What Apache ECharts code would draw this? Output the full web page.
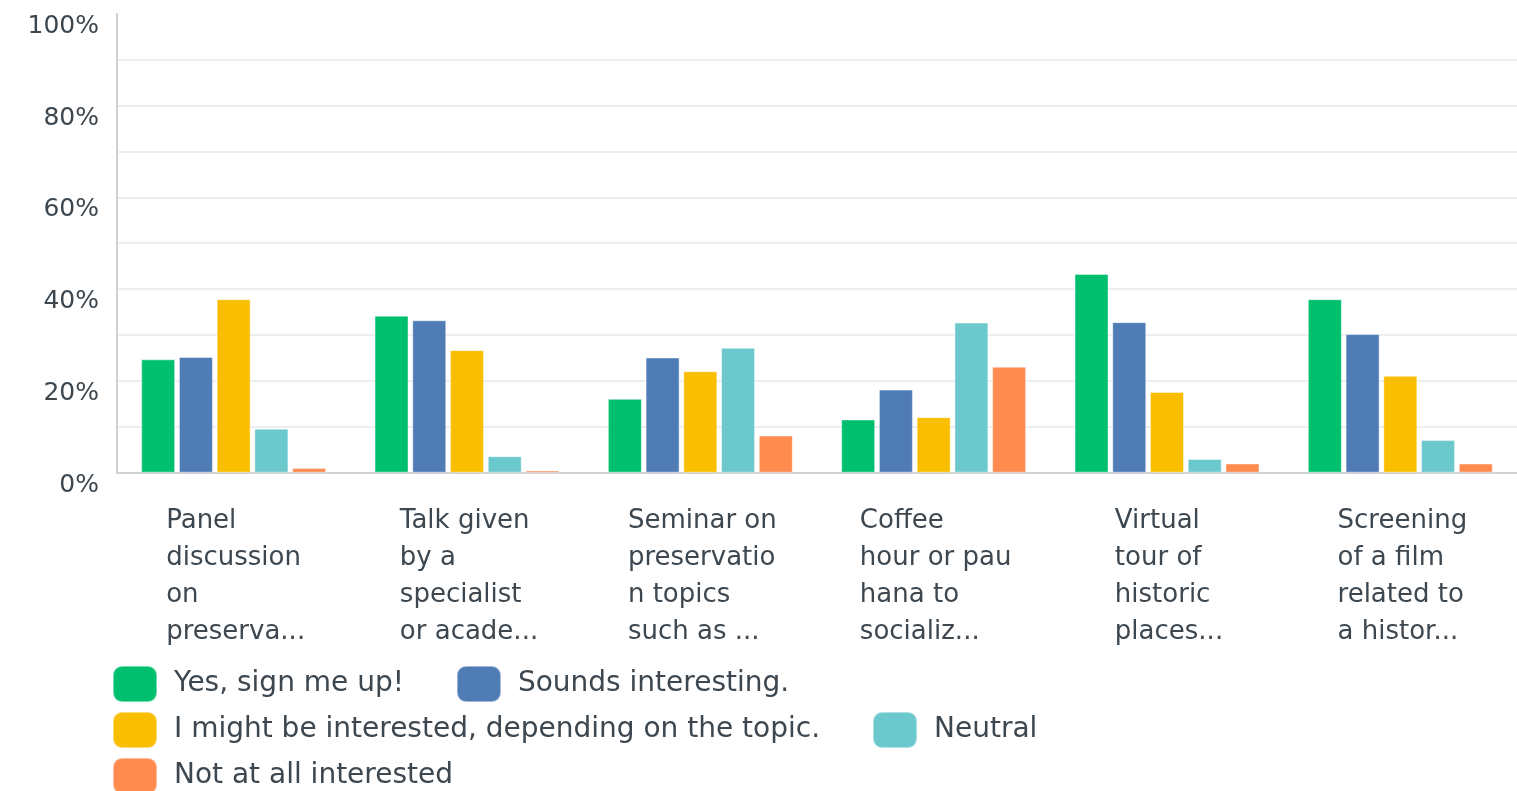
<!DOCTYPE html>
<html>
<head>
<meta charset="utf-8">
<script src="https://cdn.jsdelivr.net/npm/echarts@6/dist/echarts.min.js"></script>
<style>
  html, body { margin: 0; padding: 0; background: #fff; }
  #chart { width: 1517px; height: 791px; }
</style>
</head>
<body>
<div id="chart"></div>
<script>
// category labels as shown (truncated in the original)
const categories = [
  'Panel\ndiscussion\non\npreserva...',
  'Talk given\nby a\nspecialist\nor acade...',
  'Seminar on\npreservatio\nn topics\nsuch as ...',
  'Coffee\nhour or pau\nhana to\nsocializ...',
  'Virtual\ntour of\nhistoric\nplaces...',
  'Screening\nof a film\nrelated to\na histor...'
]
const seriesNames = [
  'Yes, sign me up!',
  'Sounds interesting.',
  'I might be interested, depending on the topic.',
  'Neutral',
  'Not at all interested'
]
// percentages
const yesData = [24.7, 34.2, 16.1, 11.6, 43.3, 37.8]
const soundsData = [25.2, 33.2, 25.1, 18.1, 32.8, 30.2]
const mightData = [37.8, 26.7, 22.1, 12.1, 17.6, 21.1]
const neutralData = [9.6, 3.6, 27.2, 32.7, 3.0, 7.1]
const notData = [1.0, 0.5, 8.1, 23.1, 2.0, 2.0]
const yTicks = [0, 20, 40, 60, 80, 100]

const colors = ['#00BF6F', '#507CB6', '#F9BE00', '#6BC8CD', '#FF8B4F']
const textColor = '#3d4750'
const font = 'DejaVu Sans'

const chart = echarts.init(document.getElementById('chart'))

const values = [yesData, soundsData, mightData, neutralData, notData]
const series = seriesNames.map((name, i) => ({
  name: name,
  type: 'bar',
  barWidth: 34,
  barGap: '11%',
  itemStyle: {
    color: colors[i],
    borderColor: 'rgba(255,255,255,0.45)',
    borderWidth: 1
  },
  data: values[i]
}))

// legend wraps into three rows in the original
const legendRows = [seriesNames.slice(0, 2), seriesNames.slice(2, 4), seriesNames.slice(4)]
const legends = legendRows.map((row, r) => ({
  left: 112,
  top: 665 + r * 46,
  padding: 0,
  icon: 'roundRect',
  itemWidth: 44,
  itemHeight: 36,
  itemGap: 52,
  textStyle: {
    fontFamily: font,
    fontSize: 28,
    color: textColor,
    padding: [0, 0, 0, 12]
  },
  data: row
}))

chart.setOption({
  backgroundColor: '#fff',
  animation: false,
  color: colors,
  textStyle: { fontFamily: font },
  grid: { left: 117, right: -5, top: 13.7, bottom: 318.3 },
  legend: legends,
  xAxis: {
    type: 'category',
    data: categories,
    axisLine: { lineStyle: { color: '#cfd1d3', width: 2 } },
    axisTick: { show: false },
    axisLabel: {
      interval: 0,
      margin: 30,
      padding: [0, 0, 0, 4],
      formatter: v => v.split('\n').map(l => '{a|' + l + '}').join('\n'),
      rich: {
        a: {
          align: 'left',
          fontFamily: font,
          fontSize: 26,
          lineHeight: 37,
          color: textColor
        }
      }
    }
  },
  yAxis: {
    type: 'value',
    min: yTicks[0],
    max: yTicks[yTicks.length - 1],
    interval: 10,
    axisLine: { show: true, lineStyle: { color: '#cfd1d3', width: 2 } },
    axisTick: { show: false },
    splitLine: { show: true, showMaxLine: false, lineStyle: { color: '#eceeef', width: 2 } },
    axisLabel: {
      margin: 18,
      verticalAlign: 'top',
      fontFamily: font,
      fontSize: 25,
      color: textColor,
      formatter: v => (yTicks.indexOf(v) >= 0 ? v + '%' : '')
    }
  },
  series: series
})
</script>
</body>
</html>
